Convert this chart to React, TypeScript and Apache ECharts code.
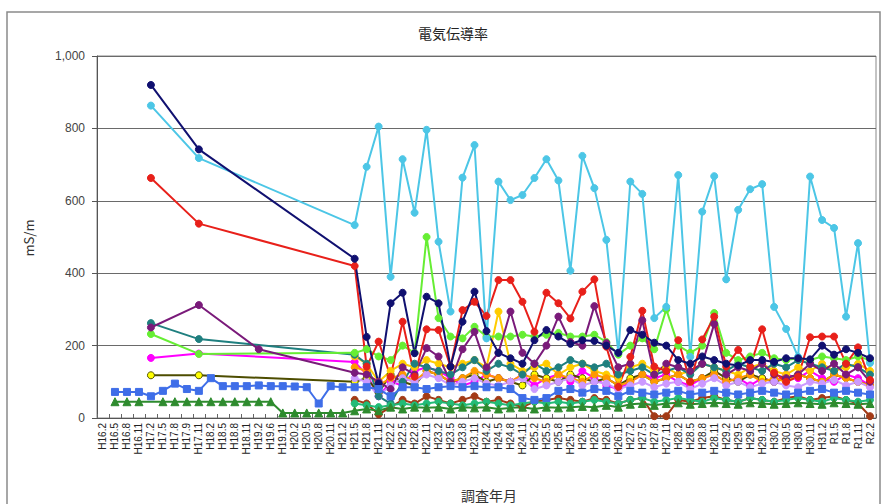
import React, { useEffect, useRef } from "react";
import * as echarts from "echarts";

const categories = [
  "H16.2", "H16.5", "H16.8", "H16.11", "H17.2", "H17.5", "H17.8", "H17.9", "H17.11",
  "H18.2", "H18.5", "H18.8", "H18.11", "H19.2", "H19.6", "H19.11", "H20.2", "H20.5", "H20.8", "H20.11",
  "H21.2", "H21.5", "H21.8", "H21.11", "H22.2", "H22.5", "H22.8", "H22.11", "H23.2", "H23.5", "H23.8", "H23.11",
  "H24.2", "H24.5", "H24.8", "H24.11", "H25.2", "H25.5", "H25.8", "H25.11", "H26.2", "H26.5", "H26.8", "H26.11",
  "H27.2", "H27.5", "H27.8", "H27.11", "H28.2", "H28.5", "H28.8", "H28.11", "H29.2", "H29.5", "H29.8", "H29.11",
  "H30.2", "H30.5", "H30.8", "H30.11", "H31.2", "R1.5", "R1.8", "R1.11", "R2.2",
];

const N = null;
// early part (index 0-20) then dense quarterly part (index 21-64)
const navy = [N, N, N, N, 920, N, N, N, 742, N, N, N, N, N, N, N, N, N, N, N, N,
  440, 224, 95, 317, 346, 179, 335, 317, 142, 266, 349, 240, 180, 165, 150, 215, 243, 225, 205, 215, 213, 200, 180,
  243, 230, 208, 200, 160, 150, 170, 160, 150, 145, 160, 160, 155, 165, 165, 162, 200, 175, 190, 180, 165];
const skyBlue = [N, N, N, N, 863, N, N, N, 718, N, N, N, N, N, N, N, N, N, N, N, N,
  533, 694, 805, 390, 715, 567, 796, 487, 294, 664, 754, 220, 653, 602, 616, 663, 715, 656, 407, 724, 635, 492, 180,
  653, 619, 276, 307, 671, 169, 570, 668, 383, 575, 632, 646, 307, 246, 169, 667, 547, 525, 280, 483, 152];
const red = [N, N, N, N, 663, N, N, N, 537, N, N, N, N, N, N, N, N, N, N, N, N,
  420, 142, 211, 114, 266, 114, 245, 243, 142, 298, 321, 282, 381, 381, 321, 238, 346, 317, 275, 349, 383, 197, 86,
  169, 296, 142, 130, 215, 100, 217, 280, 142, 188, 142, 245, 125, 100, 114, 223, 225, 225, 150, 195, 105];
const purple = [N, N, N, N, 250, N, N, N, 312, N, N, N, N, 190, N, N, N, N, N, N, N,
  125, 120, 100, 80, 140, 120, 193, 170, 100, 190, 238, 140, 180, 294, 180, 150, 200, 280, 210, 200, 309, 207, 140,
  150, 270, 120, 150, 140, 130, 150, 260, 120, 140, 130, 150, 120, 110, 120, 150, 130, 150, 120, 140, 100];
const teal = [N, N, N, N, 262, N, N, N, 218, N, N, N, N, N, N, N, N, N, N, N, N,
  175, 150, 60, 40, 100, 150, 140, 130, 120, 140, 160, 130, 150, 140, 120, 150, 130, 140, 160, 150, 140, 150, 120,
  130, 140, 120, 130, 140, 120, 150, 140, 130, 150, 140, 130, 150, 140, 160, 150, 140, 130, 150, 140, 120];
const green = [N, N, N, N, 232, N, N, N, 177, N, N, N, N, N, N, N, N, N, N, N, N,
  180, 190, 170, 160, 200, 180, 500, 276, 225, 220, 252, 225, 225, 225, 230, 225, 230, 235, 225, 225, 230, 210, 175,
  200, 220, 190, 300, 200, 180, 200, 290, 180, 160, 170, 180, 165, 160, 165, 160, 170, 165, 160, 170, 160];
const magenta = [N, N, N, N, 166, N, N, N, 178, N, N, N, N, N, N, N, N, N, N, N, N,
  155, 120, 60, 100, 90, 130, 140, 130, 110, 90, 100, 120, 110, 100, 120, 90, 110, 120, 100, 130, 110, 90, 80,
  100, 120, 110, 120, 100, 90, 110, 120, 100, 110, 90, 110, 100, 120, 110, 130, 110, 100, 120, 110, 90];
const yellow = [N, N, N, N, 118, N, N, N, 118, N, N, N, N, N, N, N, N, N, N, N, N,
  100, 110, 70, 120, 100, 90, 130, 120, 100, 110, 120, 100, 110, 100, 90, 120, 110, 100, 120, 110, 100, 110, 90,
  110, 120, 100, 110, 120, 100, 110, 130, 110, 100, 120, 110, 100, 110, 120, 110, 100, 120, 110, 100, 90];
const gold = [N, N, N, N, N, N, N, N, N, N, N, N, N, N, N, N, N, N, N, N, N,
  170, 150, 100, 130, 150, 140, 160, 150, 140, 150, 160, 140, 294, 150, 130, 140, 150, 120, 140, 150, 130, 120, 110,
  140, 150, 130, 140, 120, 130, 150, 140, 130, 120, 140, 150, 130, 120, 140, 130, 150, 130, 140, 150, 130];
const orange = [N, N, N, N, N, N, N, N, N, N, N, N, N, N, N, N, N, N, N, N, N,
  140, 130, 90, 110, 120, 100, 130, 120, 100, 110, 130, 120, 110, 100, 120, 110, 100, 120, 110, 100, 120, 110, 90,
  100, 120, 100, 110, 120, 100, 110, 120, 100, 110, 120, 100, 110, 100, 120, 110, 100, 120, 110, 100, 90];
const lavender = [N, N, N, N, N, N, N, N, N, N, N, N, N, N, N, N, N, N, N, N, N,
  110, 100, 60, 90, 110, 100, 120, 110, 90, 100, 110, 95, 90, 100, 110, 80, 90, 100, 110, 90, 100, 95, 80,
  90, 100, 85, 95, 100, 80, 95, 110, 90, 100, 85, 95, 100, 90, 85, 100, 95, 105, 90, 100, 85];
const brown = [N, N, N, N, N, N, N, N, N, N, N, N, N, N, N, N, N, N, N, N, N,
  50, 40, 10, 30, 50, 40, 60, 50, 40, 50, 60, 45, 50, 40, 30, 45, 50, 55, 50, 45, 55, 50, 40,
  50, 55, 5, 5, 50, 45, 55, 60, 50, 45, 55, 50, 45, 55, 60, 50, 55, 60, 50, 40, 5];
const seaGreen = [N, N, N, N, N, N, N, N, N, N, N, N, N, N, N, N, N, N, N, N, N,
  40, 35, 30, 35, 40, 35, 40, 45, 40, 35, 40, 45, 40, 35, 40, 45, 40, 45, 40, 45, 50, 45, 40,
  50, 55, 45, 50, 55, 50, 45, 55, 50, 45, 55, 50, 45, 50, 55, 50, 45, 55, 50, 45, 50];
const blueSquare = [N, 72, 72, 72, 60, 75, 95, 80, 75, 110, 88, 88, 88, 90, 88, 88, 87, 85, 40, 88, 85,
  85, 85, 80, 60, 85, 85, 80, 85, 88, 85, 88, 85, 85, 80, 55, 50, 55, 75, 80, 70, 80, 75, 60,
  75, 70, 65, 70, 75, 65, 70, 75, 70, 65, 70, 75, 70, 65, 70, 75, 80, 70, 75, 70, 65];
const greenTriangle = [N, 45, 45, 45, N, 45, 45, 45, 45, 45, 45, 45, 45, 45, 45, 14, 14, 14, 14, 14, 14,
  20, 25, 20, 30, 25, 30, 28, 30, 25, 30, 28, 30, 25, 28, 30, 25, 30, 28, 30, 32, 30, 35, 30,
  38, 40, 35, 40, 42, 38, 40, 42, 40, 38, 42, 40, 38, 40, 42, 40, 38, 42, 40, 38, 40];

const yTicks = [0, 200, 400, 600, 800, 1000];

type S = { name: string; data: (number | null)[]; color: string; line?: string; symbol?: string; size?: number; border?: string };
const seriesDefs: S[] = [
  { name: "s7", data: magenta, color: "#FF00FF" },
  { name: "s8", data: yellow, color: "#FFFF00", line: "#4d4d00", border: "#555500" },
  { name: "s9", data: gold, color: "#FFCC00" },
  { name: "s10", data: orange, color: "#FF9900" },
  { name: "s11", data: lavender, color: "#CC99FF" },
  { name: "s5", data: teal, color: "#1F7F7F" },
  { name: "s6", data: green, color: "#66EE33" },
  { name: "s12", data: brown, color: "#A33A16" },
  { name: "s13", data: seaGreen, color: "#22BB77" },
  { name: "s4", data: purple, color: "#7A1A7A" },
  { name: "s3", data: red, color: "#E8201A" },
  { name: "s2", data: skyBlue, color: "#4CC6E6" },
  { name: "s1", data: navy, color: "#101070" },
  { name: "s14", data: blueSquare, color: "#3F6EE8", symbol: "rect" },
  { name: "s15", data: greenTriangle, color: "#2E8B2E", symbol: "triangle", size: 8 },
];

export default function App() {
  const ref = useRef<HTMLDivElement>(null);
  useEffect(() => {
    if (!ref.current) return;
    const chart = echarts.init(ref.current, null, { renderer: "svg" });
    chart.setOption({
      animation: false,
      backgroundColor: "#ffffff",
      grid: { left: 97, right: 9, top: 56, bottom: 86, show: true, borderColor: "#888", borderWidth: 1 },
      graphic: [
        { type: "rect", shape: { x: 7, y: 12, width: 873, height: 500 }, style: { fill: "none", stroke: "#8a8a8a", lineWidth: 1.5 }, silent: true, z: -1 },
        { type: "text", x: 453, y: 33, style: { text: "電気伝導率", font: "14px 'Noto Sans CJK JP'", fill: "#222", textAlign: "center", textVerticalAlign: "middle" } },
        { type: "text", x: 28, y: 238, rotation: Math.PI / 2, style: { text: "mS/m", font: "13px 'Noto Sans CJK JP'", fill: "#333", textAlign: "center", textVerticalAlign: "middle" } },
        { type: "text", x: 489, y: 495, style: { text: "調査年月", font: "14px 'Noto Sans CJK JP'", fill: "#333", textAlign: "center", textVerticalAlign: "middle" } },
      ],
      xAxis: {
        type: "category",
        data: categories,
        boundaryGap: true,
        axisLine: { show: true, lineStyle: { color: "#555", width: 1 } },
        axisTick: { show: true, inside: true, length: 4, interval: 0, lineStyle: { color: "#666" } },
        axisLabel: { interval: 0, rotate: 90, fontSize: 10, color: "#222", margin: 5, fontFamily: "Liberation Sans" },
        splitLine: { show: false },
      },
      yAxis: {
        type: "value",
        min: 0,
        max: 1000,
        interval: 200,
        axisLine: { show: true, lineStyle: { color: "#555", width: 1 } },
        axisTick: { show: true, inside: false, length: 5, lineStyle: { color: "#555" } },
        axisLabel: {
          fontSize: 12, color: "#444", margin: 12, fontFamily: "Liberation Sans",
          formatter: (v: number) => (yTicks.includes(v) ? v.toLocaleString("en-US") : ""),
        },
        splitLine: { show: true, lineStyle: { color: "#6a6a6a", width: 1 } },
      },
      series: seriesDefs.map((s) => ({
        type: "line",
        name: s.name,
        data: s.data,
        connectNulls: true,
        symbol: s.symbol || "circle",
        symbolSize: s.size || 7,
        showAllSymbol: true,
        lineStyle: { color: s.line || s.color, width: 2 },
        itemStyle: { color: s.color, borderColor: s.border || s.color, borderWidth: 1 },
        emphasis: { disabled: true },
      })),
    });
    return () => chart.dispose();
  }, []);
  return <div ref={ref} style={{ position: "fixed", left: 0, top: 0, width: 885, height: 504 }} />;
}
